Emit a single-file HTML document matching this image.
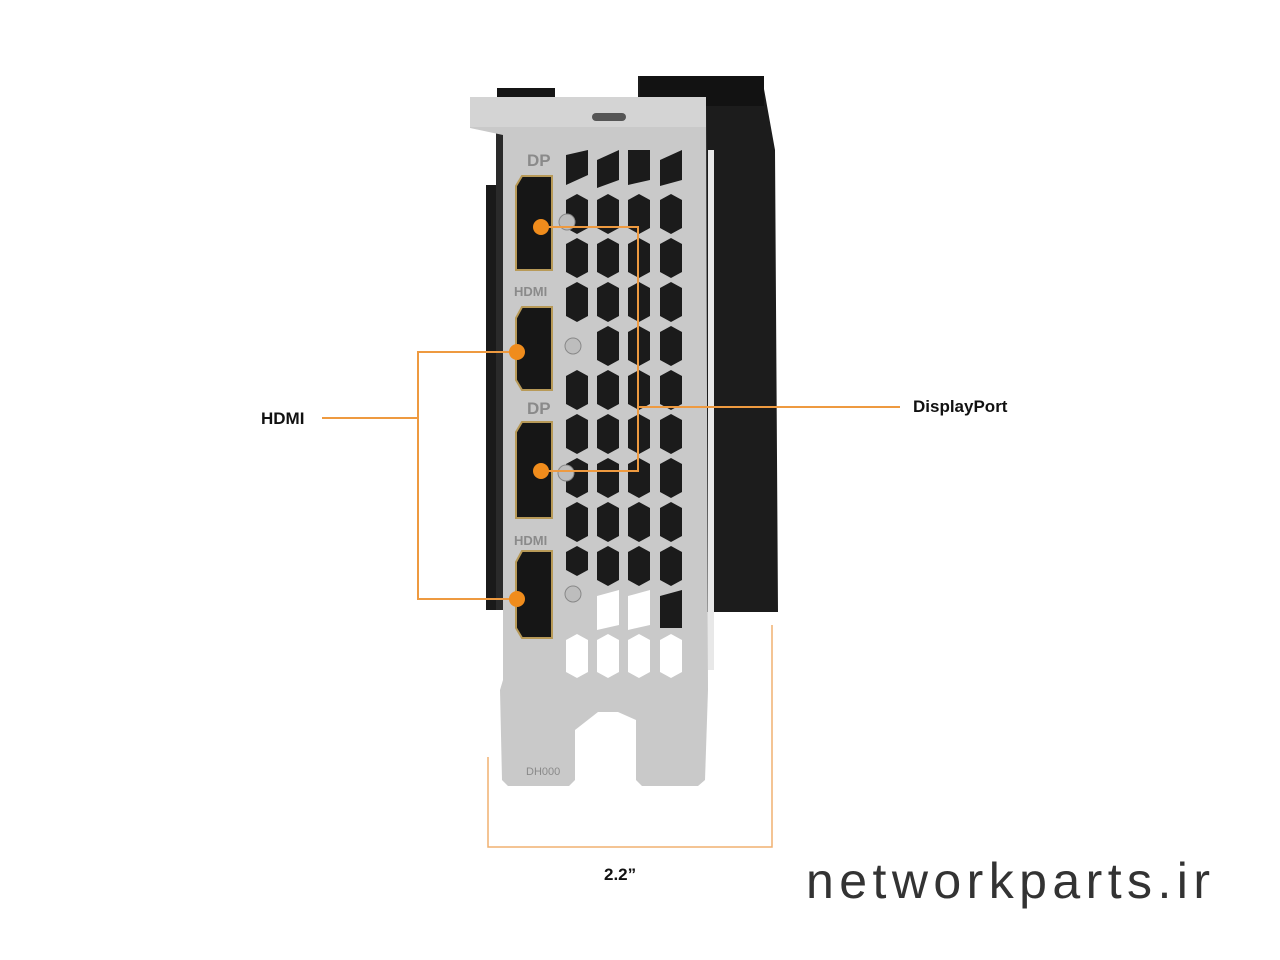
<!DOCTYPE html>
<html><head><meta charset="utf-8"><style>
html,body{margin:0;padding:0;background:#fff;width:1280px;height:960px;overflow:hidden}
svg{display:block}
text{font-family:"Liberation Sans",sans-serif}
</style></head><body>
<svg width="1280" height="960" viewBox="0 0 1280 960">
<!-- black heatsink -->
<polygon points="638,76 762,78 766,100 775,150 778,612 700,612 700,100 638,100" fill="#1c1c1c"/>
<rect x="640" y="76" width="124" height="30" fill="#121212"/>
<!-- left black parts -->
<rect x="497" y="88" width="58" height="40" fill="#151515"/>
<rect x="486" y="185" width="16" height="425" fill="#1a1a1a"/>
<rect x="496" y="130" width="10" height="480" fill="#2a2a2a"/>
<!-- bracket -->
<polygon points="470,98 500,98 505,104 630,104 636,98 700,98 706,106 708,690 705,780 698,786 642,786 636,780 636,720 618,712 598,712 575,730 575,780 569,786 508,786 502,780 500,690 503,680 503,135 470,128" fill="#c9c9c9"/>
<rect x="470" y="97" width="236" height="30" fill="#d4d4d4"/>
<rect x="592" y="113" width="34" height="8" rx="4" fill="#555"/>
<rect x="708" y="150" width="6" height="520" fill="#e8e8e8"/>
<g fill="#1b1b1b">
<polygon points="566,155 588,150 588,175 566,185"/>
<polygon points="597,160 619,150 619,180 597,188"/><polygon points="628,150 650,150 650,180 628,185"/><polygon points="660,160 682,150 682,180 660,186"/>
</g>
<g fill="#1b1b1b">
<polygon points="566,200 577,194 588,200 588,228 577,234 566,228"/><polygon points="597,200 608,194 619,200 619,228 608,234 597,228"/><polygon points="628,200 639,194 650,200 650,228 639,234 628,228"/><polygon points="660,200 671,194 682,200 682,228 671,234 660,228"/>
<polygon points="566,244 577,238 588,244 588,272 577,278 566,272"/><polygon points="597,244 608,238 619,244 619,272 608,278 597,272"/><polygon points="628,244 639,238 650,244 650,272 639,278 628,272"/><polygon points="660,244 671,238 682,244 682,272 671,278 660,272"/>
<polygon points="566,288 577,282 588,288 588,316 577,322 566,316"/><polygon points="597,288 608,282 619,288 619,316 608,322 597,316"/><polygon points="628,288 639,282 650,288 650,316 639,322 628,316"/><polygon points="660,288 671,282 682,288 682,316 671,322 660,316"/>
<polygon points="597,332 608,326 619,332 619,360 608,366 597,360"/><polygon points="628,332 639,326 650,332 650,360 639,366 628,360"/><polygon points="660,332 671,326 682,332 682,360 671,366 660,360"/>
<polygon points="566,376 577,370 588,376 588,404 577,410 566,404"/><polygon points="597,376 608,370 619,376 619,404 608,410 597,404"/><polygon points="628,376 639,370 650,376 650,404 639,410 628,404"/><polygon points="660,376 671,370 682,376 682,404 671,410 660,404"/>
<polygon points="566,420 577,414 588,420 588,448 577,454 566,448"/><polygon points="597,420 608,414 619,420 619,448 608,454 597,448"/><polygon points="628,420 639,414 650,420 650,448 639,454 628,448"/><polygon points="660,420 671,414 682,420 682,448 671,454 660,448"/>
<polygon points="566,464 577,458 588,464 588,492 577,498 566,492"/><polygon points="597,464 608,458 619,464 619,492 608,498 597,492"/><polygon points="628,464 639,458 650,464 650,492 639,498 628,492"/><polygon points="660,464 671,458 682,464 682,492 671,498 660,492"/>
<polygon points="566,508 577,502 588,508 588,536 577,542 566,536"/><polygon points="597,508 608,502 619,508 619,536 608,542 597,536"/><polygon points="628,508 639,502 650,508 650,536 639,542 628,536"/><polygon points="660,508 671,502 682,508 682,536 671,542 660,536"/>
<polygon points="566,552 577,546 588,552 588,570 577,576 566,570"/><polygon points="597,552 608,546 619,552 619,580 608,586 597,580"/><polygon points="628,552 639,546 650,552 650,580 639,586 628,580"/><polygon points="660,552 671,546 682,552 682,580 671,586 660,580"/>
<polygon points="660,596 682,590 682,628 660,628"/>
</g>
<g fill="#fff">
<polygon points="597,596 619,590 619,625 597,630"/><polygon points="628,596 650,590 650,625 628,630"/>
<polygon points="566,640 577,634 588,640 588,672 577,678 566,672"/><polygon points="597,640 608,634 619,640 619,672 608,678 597,672"/><polygon points="628,640 639,634 650,640 650,672 639,678 628,672"/><polygon points="660,640 671,634 682,640 682,672 671,678 660,672"/>
</g>
<!-- ports -->
<g fill="#161616" stroke="#b89a58" stroke-width="2">
<polygon points="522,176 552,176 552,270 516,270 516,186"/>
<polygon points="522,307 552,307 552,390 522,390 516,380 516,318"/>
<polygon points="522,422 552,422 552,518 516,518 516,432"/>
<polygon points="522,551 552,551 552,638 522,638 516,628 516,562"/>
</g>
<g fill="#bdbdbd" stroke="#888" stroke-width="1">
<circle cx="567" cy="222" r="8"/><circle cx="573" cy="346" r="8"/><circle cx="566" cy="473" r="8"/><circle cx="573" cy="594" r="8"/>
</g>
<g fill="#8a8a8a" font-size="17" font-weight="bold">
<text x="527" y="166">DP</text><text x="514" y="296" font-size="13">HDMI</text>
<text x="527" y="414">DP</text><text x="514" y="545" font-size="13">HDMI</text>
<text x="526" y="775" font-size="11" font-weight="normal">DH000</text>
</g>
<!-- orange connectors -->
<g stroke="#ee9a40" stroke-width="2" fill="none">
<polyline points="322,418 418,418"/>
<polyline points="517,352 418,352 418,599 517,599"/>
<polyline points="541,227 638,227 638,471 541,471"/>
<polyline points="638,407 900,407"/>
<polyline points="488,757 488,847 772,847 772,625" stroke="#f0b070" stroke-width="1.5"/>
</g>
<g fill="#f08c1c">
<circle cx="541" cy="227" r="8"/><circle cx="517" cy="352" r="8"/><circle cx="541" cy="471" r="8"/><circle cx="517" cy="599" r="8"/>
</g>
<g font-weight="bold" font-size="17" fill="#111">
<text x="261" y="424">HDMI</text>
<text x="913" y="412">DisplayPort</text>
<text x="604" y="880">2.2”</text>
</g>
<text x="806" y="898" font-size="50" fill="#333" textLength="404" lengthAdjust="spacing">networkparts.ir</text>
</svg>
</body></html>
